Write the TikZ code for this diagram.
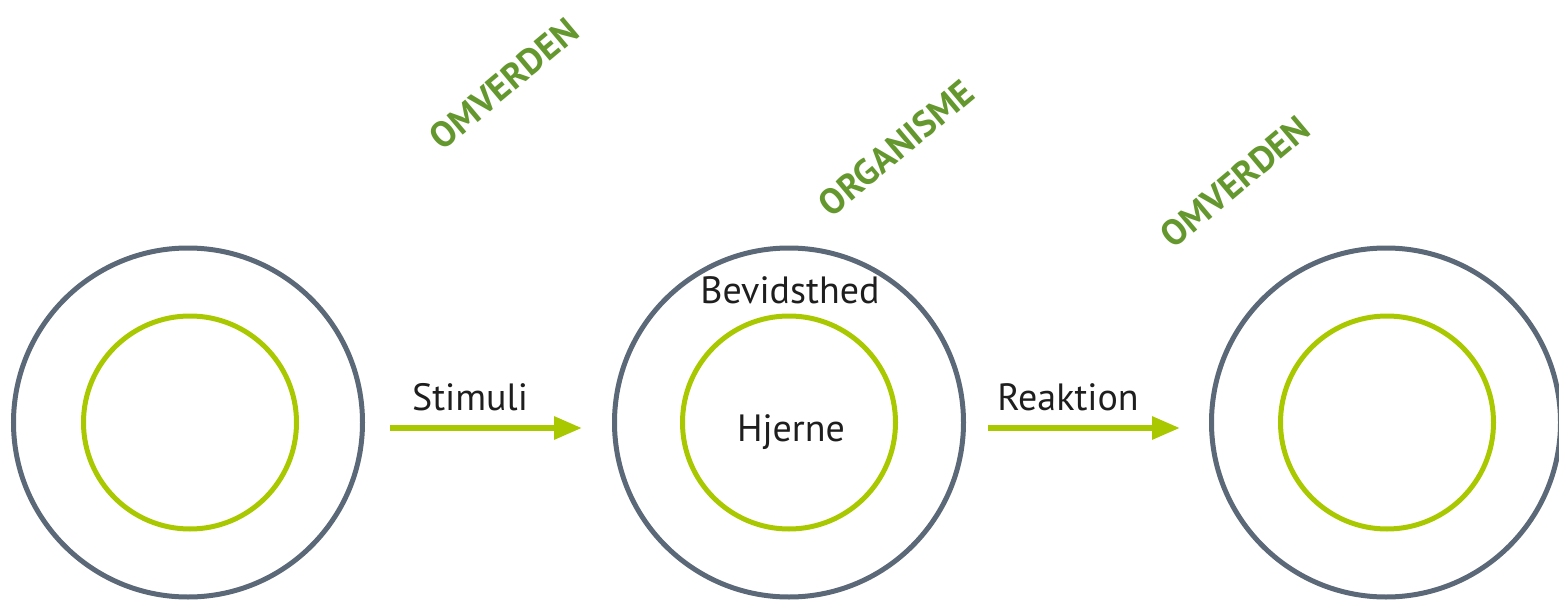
\documentclass[tikz,border=0pt]{standalone}
\usepackage{fontspec}
\setmainfont{PT Sans}
\usetikzlibrary{arrows.meta}
\definecolor{ringgray}{HTML}{5B6878}
\definecolor{ringgreen}{HTML}{AAC800}
\definecolor{titlegreen}{HTML}{64982E}
\definecolor{labelblack}{HTML}{1E1E1E}
\tikzset{
  outerring/.style={circle, draw=ringgray, line width=5pt, minimum size=349pt, inner sep=0pt},
  innerring/.style={circle, draw=ringgreen, line width=5pt, minimum size=213pt, inner sep=0pt},
  flow/.style={draw=ringgreen, line width=6pt, -{Triangle[length=28pt,width=22pt]}},
  label/.style={text=labelblack, font=\fontsize{38}{40}\selectfont, inner sep=0pt},
  title/.style={text=titlegreen, font=\bfseries\fontsize{36}{38}\selectfont, rotate=40, inner sep=0pt}
}
\begin{document}
\begin{tikzpicture}[x=1pt,y=-1pt]
\useasboundingbox (0,0) rectangle (1559,602);
% three rings
\node[outerring] (lo) at (188,422.5) {};
\node[innerring] (li) at (190,422.5) {};
\node[outerring] (mo) at (789,422.5) {};
\node[innerring] (mi) at (789,422.5) {};
\node[outerring] (ro) at (1386,422.5) {};
\node[innerring] (ri) at (1387,422.5) {};
% arrows between the rings
\coordinate (a1s) at (390,428);
\coordinate (a1e) at (582,428);
\coordinate (a2s) at (988,428);
\coordinate (a2e) at (1180,428);
\draw[flow] (a1s) -- (a1e);
\draw[flow] (a2s) -- (a2e);
% labels
\node[label] (stim) at (470,397) {Stimuli};
\node[label] (reak) at (1068,397) {Reaktion};
\node[label] (bev) at (790,290) {Bevidsthed};
\node[label] (hj) at (791,432) {Hjerne};
% rotated headings
\node[title] (om1) at (504,84) {OMVERDEN};
\node[title] (org) at (896,148) {ORGANISME};
\node[title] (om2) at (1235,182) {OMVERDEN};
\end{tikzpicture}
\end{document}
